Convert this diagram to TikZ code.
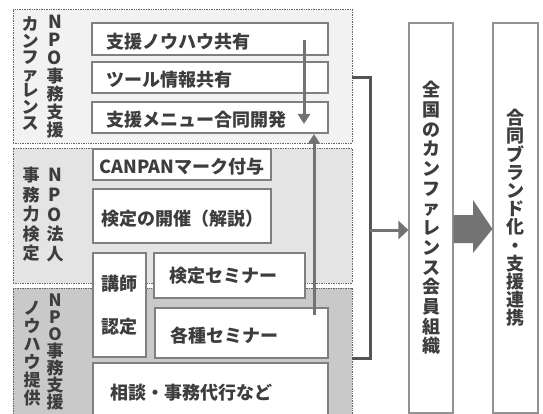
\documentclass[tikz,border=0pt]{standalone}
\usepackage{fontspec}
\newfontfamily\jp{Noto Sans CJK JP}
\usetikzlibrary{arrows.meta}
\definecolor{txt}{HTML}{3D3D3D}
\definecolor{bord}{HTML}{7F7F7F}
\definecolor{pA}{HTML}{F2F2F2}
\definecolor{pB}{HTML}{E4E4E4}
\definecolor{pC}{HTML}{C9C9C9}
\definecolor{arr}{HTML}{737373}
\definecolor{brk}{HTML}{545454}
\newcommand\bigL[1]{{\fontsize{18}{17}\selectfont #1}}
\tikzset{
  panel/.style={draw=black!60, line width=0.7pt, densely dotted, inner sep=0pt},
  box/.style={draw=bord, line width=1.4pt, fill=white, inner sep=0pt, text=txt,
     font=\jp\bfseries\fontsize{18}{20}\selectfont},
  lbox/.style={box, align=left, inner xsep=14pt},
  lowtext/.style={text height=18.5pt, text depth=0pt},
  tallbox/.style={draw=bord!85, line width=1.1pt, fill=white, inner sep=0pt, text=txt, align=center},
  vlab/.style={text=txt, align=center, inner sep=0pt, anchor=north},
  thinarrow/.style={draw=arr, line width=3pt, -{Triangle[length=10pt,width=12pt]}},
}
\begin{document}
\begin{tikzpicture}[x=1pt,y=-1pt]
\useasboundingbox (0,0) rectangle (543,414);
\clip (0,0) rectangle (543,414);
% panels
\node[panel, fill=pA, minimum width=339pt, minimum height=134pt] (p1) at (182.5,76) {};
\node[panel, fill=pB, minimum width=339pt, minimum height=135pt] (p2) at (182.5,215.5) {};
\node[panel, fill=pC, minimum width=339pt, minimum height=132pt] (p3) at (182.5,354) {};
% panel labels
\node[vlab, font=\jp\bfseries\fontsize{17}{18}\selectfont] (l1a) at (55,15) {\bigL{N}\\\bigL{P}\\\bigL{O}\\事\\務\\支\\援};
\node[vlab, font=\jp\bfseries\fontsize{17}{16.5}\selectfont] (l1b) at (30,17) {カ\\ン\\フ\\ァ\\レ\\ン\\ス};
\node[vlab, font=\jp\bfseries\fontsize{17}{19.7}\selectfont] (l2a) at (55,168) {\bigL{N}\\\bigL{P}\\\bigL{O}\\法\\人};
\node[vlab, font=\jp\bfseries\fontsize{17}{19.5}\selectfont] (l2b) at (31,167) {事\\務\\力\\検\\定};
\node[vlab, font=\jp\bfseries\fontsize{17}{17}\selectfont] (l3a) at (55,294) {N\\P\\O\\事\\務\\支\\援};
\node[vlab, font=\jp\bfseries\fontsize{17}{18}\selectfont] (l3b) at (32,301) {ノ\\ウ\\ハ\\ウ\\提\\供};
% boxes
\node[lbox, lowtext, minimum width=236pt, minimum height=32pt, text width=208pt] (b1) at (210,39) {支援ノウハウ共有};
\node[lbox, lowtext, minimum width=236pt, minimum height=31pt, text width=208pt] (b2) at (210,77.5) {ツール情報共有};
\node[lbox, lowtext, minimum width=236pt, minimum height=31pt, text width=208pt] (b3) at (210,117.5) {支援メニュー合同開発};
\node[box, lowtext, minimum width=178pt, minimum height=31pt, align=center] (c1) at (182,164.5) {CANPANマーク付与};
\node[box, lowtext, minimum width=178pt, minimum height=54pt, align=center] (c2) at (182,216) {検定の開催（解説）};
\node[box, minimum width=53pt, minimum height=104pt, align=center, font=\jp\bfseries\fontsize{18}{43}\selectfont] (k) at (119.5,305) {講師\\認定};
\node[lbox, minimum width=149pt, minimum height=45pt, text width=121pt, inner xsep=15pt] (s1) at (229.5,275.5) {検定セミナー};
\node[lbox, lowtext, minimum width=173pt, minimum height=50pt, text width=143pt, inner xsep=15pt] (s2) at (241.5,333) {各種セミナー};
\node[lbox, minimum width=235pt, minimum height=60pt, text width=201pt, inner xsep=17pt] (d) at (210.5,393) {相談・事務代行など};
% right boxes
\node[tallbox, minimum width=44pt, minimum height=390pt, font=\jp\bfseries\fontsize{18}{19.7}\selectfont] (r1) at (431,218) {全\\国\\の\\カ\\ン\\フ\\ァ\\レ\\ン\\ス\\会\\員\\組\\織};
\node[tallbox, minimum width=45pt, minimum height=390pt, font=\jp\bfseries\fontsize{18}{18.2}\selectfont] (r2) at (515.5,218) {合\\同\\ブ\\ラ\\ン\\ド\\化\\・\\支\\援\\連\\携};
% inner arrows
\coordinate (dA) at (304,40);
\coordinate (dB) at (304,124);
\draw[thinarrow] (dA) -- (dB);
\coordinate (uA) at (314,315);
\coordinate (uB) at (314,134);
\draw[thinarrow] (uA) -- (uB);
% bracket
\coordinate (bt) at (352,78);
\coordinate (bb) at (352,358);
\coordinate (bm) at (370,230);
\draw[brk, line width=3pt] (bt) -- ++(18,0) |- (bb);
\draw[draw=arr, line width=3pt, -{Triangle[length=10pt,width=18pt]}] (bm) -- (bm -| r1.west);
% fat arrow
\fill[arr] (r1.east |- 0,215) -- (473,215) -- (473,200) -- (r2.west |- 0,229) -- (473,253) -- (473,243) -- (r1.east |- 0,243) -- cycle;
\end{tikzpicture}
\end{document}
